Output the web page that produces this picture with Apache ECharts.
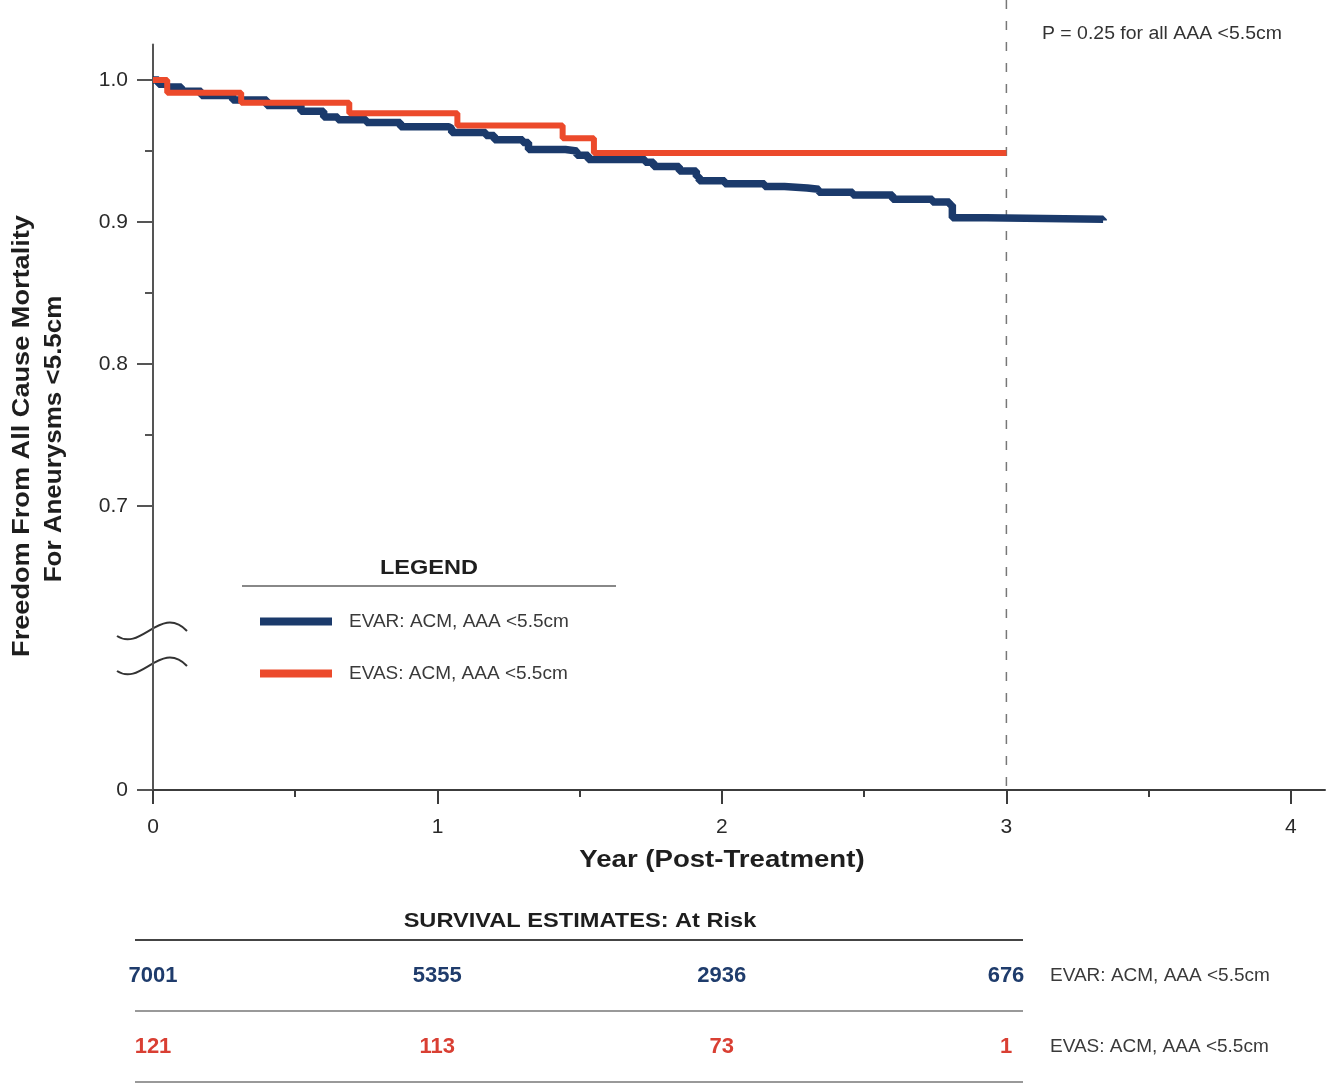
<!DOCTYPE html>
<html><head><meta charset="utf-8">
<script src="https://cdn.jsdelivr.net/npm/echarts@6/dist/echarts.min.js"></script>
<style>html,body{margin:0;padding:0;background:#fff}#c{width:1333px;height:1085px}</style>
</head><body><div id="c"></div>
<script>
// ---- data ----
const evarName = 'EVAR: ACM, AAA <5.5cm';
const evasName = 'EVAS: ACM, AAA <5.5cm';
const evarTimes = [0, 0.02, 0.05, 0.10, 0.17, 0.28, 0.40, 0.52, 0.60, 0.65, 0.75, 0.87, 1.04, 1.05, 1.17, 1.20, 1.30, 1.32, 1.45, 1.49, 1.53, 1.73, 1.76, 1.85, 1.91, 1.92, 2.01, 2.15, 2.22, 2.30, 2.34, 2.46, 2.60, 2.74, 2.80, 2.81, 2.93, 3.34];
const evarSurv  = [1.0, 0.997, 0.995, 0.992, 0.989, 0.986, 0.982, 0.978, 0.974, 0.972, 0.970, 0.967, 0.966, 0.963, 0.961, 0.958, 0.956, 0.951, 0.950, 0.947, 0.944, 0.942, 0.939, 0.936, 0.932, 0.929, 0.927, 0.925, 0.924, 0.923, 0.921, 0.919, 0.916, 0.914, 0.912, 0.903, 0.902, 0.901];
const evasTimes = [0, 0.05, 0.31, 0.69, 1.07, 1.44, 1.55, 3.0];
const evasSurv  = [1.0, 0.991, 0.984, 0.9765, 0.968, 0.959, 0.9486, 0.9486];
const xTickValues = [0, 1, 2, 3, 4];
const xMinorTicks = [0.5, 1.5, 2.5, 3.5];
const yTickValues = [0.5, 0.7, 0.8, 0.9, 1.0];
const yTickLabels = ['0', '0.7', '0.8', '0.9', '1.0'];
const yMinorTicks = [0.75, 0.85, 0.95];
const atRiskTimes = [0, 1, 2, 3];
const evarAtRisk = [7001, 5355, 2936, 676];
const evasAtRisk = [121, 113, 73, 1];
const rowLabels = [evarName, evasName];

// ---- style ----
const FONT = '"Liberation Sans", Arial, sans-serif';
const BLUE = '#1b3a6b';
const RED = '#ec4a2b';
const AXIS = '#3c3c3c';

const chart = echarts.init(document.getElementById('c'), null, {renderer: 'canvas'});
const zip = (a, b) => a.map((v, i) => [v, b[i]]);

const option = {
  animation: false,
  backgroundColor: '#fff',
  textStyle: {fontFamily: FONT},
  grid: [
    {left: 153, right: 8, top: 44.5, bottom: 295},
    {left: 135, right: 310, top: 940, height: 142}
  ],
  legend: {
    data: [evarName, evasName],
    orient: 'vertical', left: 255, top: 607, padding: 5,
    icon: 'rect', itemWidth: 72, itemHeight: 8, itemGap: 33,
    selectedMode: false,
    textStyle: {fontSize: 19, color: '#3a3a3a', fontFamily: FONT, padding: [0, 0, 0, 12]}
  },
  xAxis: [
    {type: 'value', gridIndex: 0, min: 0, max: 4.12, position: 'bottom',
     axisLine: {show: true, lineStyle: {color: AXIS, width: 2}},
     axisTick: {show: true, customValues: xTickValues, length: 14, lineStyle: {color: AXIS, width: 2}},
     axisLabel: {show: true, customValues: xTickValues, margin: 27, fontSize: 21, color: '#2a2a2a', fontFamily: FONT},
     splitLine: {show: false}},
    {type: 'value', gridIndex: 0, min: 0, max: 4.12, position: 'bottom', offset: 0,
     axisLine: {show: false},
     axisTick: {show: true, customValues: xMinorTicks, length: 7, lineStyle: {color: AXIS, width: 2}},
     axisLabel: {show: false}, splitLine: {show: false}},
    {type: 'value', gridIndex: 1, min: -0.0633, max: 3.0598, show: false}
  ],
  yAxis: [
    {type: 'value', gridIndex: 0, min: 0.5, max: 1.025, position: 'left',
     axisLine: {show: true, lineStyle: {color: '#555', width: 2}},
     axisTick: {show: true, customValues: yTickValues, length: 16, lineStyle: {color: '#555', width: 2}},
     axisLabel: {show: true, customValues: yTickValues, margin: 25, fontSize: 21, color: '#2a2a2a', fontFamily: FONT,
       formatter: v => { const i = yTickValues.findIndex(t => Math.abs(t - v) < 1e-6); return i >= 0 ? yTickLabels[i] : ''; }},
     splitLine: {show: false}},
    {type: 'value', gridIndex: 0, min: 0.5, max: 1.025, position: 'left', offset: 0,
     axisLine: {show: false},
     axisTick: {show: true, customValues: yMinorTicks, length: 8, lineStyle: {color: '#555', width: 2}},
     axisLabel: {show: false}, splitLine: {show: false}},
    {type: 'category', gridIndex: 1, data: rowLabels, inverse: true, position: 'right',
     axisLine: {show: false}, axisTick: {show: false},
     axisLabel: {show: true, margin: 27, fontSize: 19, color: '#3a3a3a', fontFamily: FONT, align: 'left'},
     splitLine: {show: true, lineStyle: {color: ['#444', '#999', '#999'], width: 2}}}
  ],
  series: [
    {name: evarName, type: 'line', xAxisIndex: 0, yAxisIndex: 0, step: 'end', symbol: 'none',
     data: zip(evarTimes, evarSurv), color: BLUE, lineStyle: {color: BLUE, width: 7.5, cap: 'butt'}, z: 3},
    {name: evasName, type: 'line', xAxisIndex: 0, yAxisIndex: 0, step: 'end', symbol: 'none',
     data: zip(evasTimes, evasSurv), color: RED, lineStyle: {color: RED, width: 6}, z: 4},
    {name: 'atRiskEVAR', type: 'scatter', xAxisIndex: 2, yAxisIndex: 2, symbol: 'rect', symbolSize: 1,
     itemStyle: {color: '#ffffff', opacity: 1},
     data: atRiskTimes.map((t, i) => [t, rowLabels[0], evarAtRisk[i]]),
     label: {show: true, position: 'inside', formatter: p => String(p.value[2]), opacity: 1, textBorderWidth: 0,
       fontSize: 22, fontWeight: 'bold', color: '#1f3c6c', fontFamily: FONT}},
    {name: 'atRiskEVAS', type: 'scatter', xAxisIndex: 2, yAxisIndex: 2, symbol: 'rect', symbolSize: 1,
     itemStyle: {color: '#ffffff', opacity: 1},
     data: atRiskTimes.map((t, i) => [t, rowLabels[1], evasAtRisk[i]]),
     label: {show: true, position: 'inside', formatter: p => String(p.value[2]), opacity: 1, textBorderWidth: 0,
       fontSize: 22, fontWeight: 'bold', color: '#d93f33', fontFamily: FONT}}
  ]
};
chart.setOption(option);

// ---- annotations positioned from the axes ----
const px = v => chart.convertToPixel({xAxisIndex: 0}, v);
const py = v => chart.convertToPixel({yAxisIndex: 0}, v);
const x0 = px(0), x3 = px(3), x2 = px(2);
const yBot = py(0.5), yBreak = py(0.6);
function wave(dy) {
  const c = yBreak + dy;
  return {type: 'bezierCurve', silent: true,
    shape: {x1: x0 - 36, y1: c + 6, cpx1: x0 - 12, cpy1: c + 22, cpx2: x0 + 8, cpy2: c - 26, x2: x0 + 34, y2: c + 1},
    style: {stroke: '#333', lineWidth: 2, fill: null}};
}
function txt(x, y, text, font, sx, extra) {
  return Object.assign({type: 'text', x: x, y: y, scaleX: sx, silent: true,
    style: {text: text, font: font, fill: '#1e1e1e', align: 'center', verticalAlign: 'middle'}}, extra || {});
}
chart.setOption({
  graphic: [
    {type: 'line', silent: true, z: 1,
     shape: {x1: x3, y1: 0, x2: x3, y2: yBot},
     style: {stroke: '#777', lineWidth: 1.5, lineDash: [9, 12]}},
    wave(-18), wave(17),
    {type: 'text', x: 1042, y: 34, scaleX: 1.08, silent: true,
     style: {text: 'P = 0.25 for all AAA <5.5cm', font: '18px ' + FONT, fill: '#333', align: 'left', verticalAlign: 'middle'}},
    txt(x2, 861, 'Year (Post-Treatment)', 'bold 23px ' + FONT, 1.2),
    txt(23, 436, 'Freedom From All Cause Mortality', 'bold 23px ' + FONT, 1.18, {rotation: Math.PI / 2}),
    txt(55, 439, 'For Aneurysms <5.5cm', 'bold 23px ' + FONT, 1.13, {rotation: Math.PI / 2}),
    txt(429, 568, 'LEGEND', 'bold 21px ' + FONT, 1.12),
    {type: 'line', silent: true,
     shape: {x1: 242, y1: 586, x2: 616, y2: 586},
     style: {stroke: '#888', lineWidth: 2}},
    txt(580, 921, 'SURVIVAL ESTIMATES: At Risk', 'bold 20px ' + FONT, 1.18)
  ]
});
</script></body></html>
